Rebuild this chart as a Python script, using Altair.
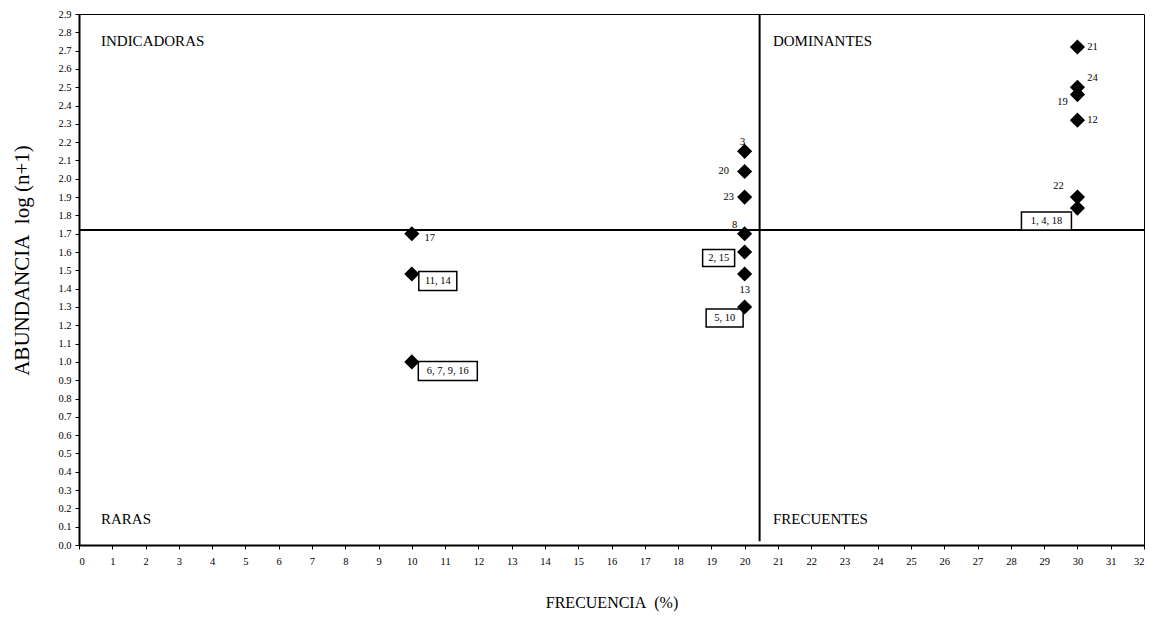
import altair as alt
import pandas as pd

# ---- data ----
frecuencia = [30, 30, 30, 30, 30, 30, 20, 20, 20, 20, 20, 20, 20, 10, 10, 10]
abundancia = [2.72, 2.50, 2.46, 2.32, 1.90, 1.84, 2.15, 2.04, 1.90, 1.70, 1.60, 1.48, 1.30, 1.70, 1.48, 1.00]
etiquetas = ["21", "24", "19", "12", "22", "1, 4, 18", "3", "20", "23", "8",
             "2, 15", "13", "5, 10", "17", "11, 14", "6, 7, 9, 16"]
con_caja = [False, False, False, False, False, True, False, False, False, False,
            True, False, True, False, True, True]

corte_x = 20.45
corte_y = 1.72

cuadrantes = ["INDICADORAS", "DOMINANTES", "RARAS", "FRECUENTES"]
cuad_x = [0.66, 20.85, 0.66, 20.85]
cuad_y = [2.75, 2.75, 0.14, 0.14]

x_ticks = list(range(0, 33))
y_ticks = [round(i / 10, 1) for i in range(0, 30)]

# label offsets (px) relative to each point: (dx, dy, box width, box height)
offsets = {
    "21": (15, 0, 0, 0), "24": (15, -9, 0, 0), "19": (-15, 7, 0, 0),
    "12": (15, 0, 0, 0), "22": (-19, -11, 0, 0), "1, 4, 18": (-31, 13, 50, 18),
    "3": (-2, -9, 0, 0), "20": (-21, 0, 0, 0), "23": (-16, 0, 0, 0),
    "8": (-10, -9, 0, 0), "2, 15": (-26, 6, 32, 17), "13": (0, 16, 0, 0),
    "5, 10": (-20, 11, 37, 18), "17": (18, 4, 0, 0), "11, 14": (26, 7, 38, 19),
    "6, 7, 9, 16": (36, 9, 59, 19),
}

FONT = "Liberation Serif"
NB = "\u00a0"

df = pd.DataFrame({"x": frecuencia, "y": abundancia, "lab": etiquetas, "box": con_caja})
dq = pd.DataFrame({"x": cuad_x, "y": cuad_y, "t": cuadrantes})

xs = alt.Scale(domain=[0, 32], nice=False, zero=False)
ys = alt.Scale(domain=[0, 2.9], nice=False, zero=False)
x_axis = alt.Axis(values=x_ticks, title=f"FRECUENCIA{NB}{NB}(%)", format="d", labelOverlap=False)
y_axis = alt.Axis(values=y_ticks, title=f"ABUNDANCIA{NB}{NB}log (n+1)", format=".1f",
                  labelOverlap=False, titleY=246)


def X(field="x:Q"):
    return alt.X(field, scale=xs, axis=x_axis)


def Y(field="y:Q"):
    return alt.Y(field, scale=ys, axis=y_axis)


base = alt.Chart(df)

vrule = alt.Chart(pd.DataFrame({"x": [corte_x], "y": [0.02], "y2": [2.9]})).mark_rule(
    color="black", strokeWidth=2).encode(x=X(), y=Y(), y2="y2:Q")
hrule = alt.Chart(pd.DataFrame({"y": [corte_y]})).mark_rule(color="black", strokeWidth=2).encode(
    y=Y())

layers = [vrule, hrule]

# boxes
for lab, (dx, dy, w, h) in offsets.items():
    if w > 0:
        r = h / w
        shape = f"M-1,-{r:.3f}H1V{r:.3f}H-1Z"
        layers.append(
            base.transform_filter(alt.datum.lab == lab).mark_point(
                shape=shape, size=w * w, filled=True, fill="white", stroke="black",
                strokeWidth=1.5, opacity=1, xOffset=dx, yOffset=dy
            ).encode(x=X(), y=Y())
        )

# texts
for lab, (dx, dy, w, h) in offsets.items():
    layers.append(
        base.transform_filter(alt.datum.lab == lab).mark_text(
            font=FONT, fontSize=10.5, color="black", align="center", baseline="middle",
            dx=dx, dy=dy
        ).encode(x=X(), y=Y(), text="lab:N")
    )

points = base.mark_point(shape="diamond", filled=True, color="black", size=230, opacity=1).encode(x=X(), y=Y())
layers.append(points)

quad = alt.Chart(dq).mark_text(font=FONT, fontSize=15, color="black", align="left",
                               baseline="middle").encode(x=X(), y=Y(), text="t:N")
layers.append(quad)

chart = alt.layer(*layers).properties(
    width=1065, height=531,
    autosize=alt.AutoSizeParams(type="none"),
    padding={"left": 71, "top": 6, "right": 2, "bottom": 68},
).configure_view(
    stroke="black", strokeWidth=1
).configure_axis(
    grid=False, domainColor="black", domainWidth=2, tickColor="black", tickSize=4,
    tickWidth=1, labelFont=FONT, labelFontSize=10.5, labelColor="black", labelOverlap=False,
    titleFont=FONT, titleFontWeight="normal", titleColor="black"
).configure_axisX(
    labelPadding=7, titlePadding=28, titleFontSize=16
).configure_axisY(
    labelPadding=4, titlePadding=25, titleFontSize=21
)

chart.save("out.html", embed_options={"renderer": "svg", "actions": False})
